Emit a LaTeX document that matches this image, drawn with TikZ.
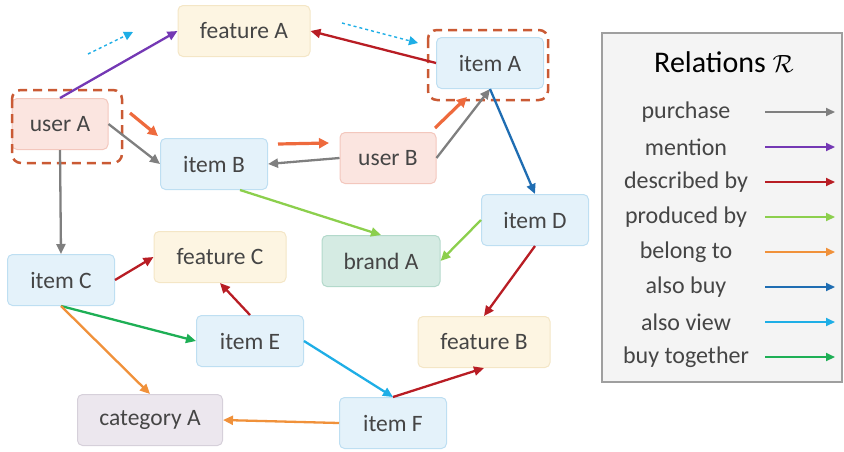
\documentclass[tikz,border=0pt]{standalone}
\usepackage{fontspec}
\setmainfont{Carlito}
\usetikzlibrary{arrows.meta}
\definecolor{cpurchase}{HTML}{7F7F7F}
\definecolor{cmention}{HTML}{7438B4}
\definecolor{cdescribed}{HTML}{B81D24}
\definecolor{cproduced}{HTML}{8CCF4D}
\definecolor{cbelong}{HTML}{F0913A}
\definecolor{calsobuy}{HTML}{1F6DB2}
\definecolor{calsoview}{HTML}{1EAEE6}
\definecolor{cbuytogether}{HTML}{1EAF55}
\definecolor{chigh}{HTML}{EE6A3D}
\definecolor{textgray}{HTML}{454545}
\definecolor{itemfill}{HTML}{E4F2FA}
\definecolor{itemline}{HTML}{BEDFF2}
\definecolor{featfill}{HTML}{FDF5E2}
\definecolor{featline}{HTML}{F4E6C6}
\definecolor{userfill}{HTML}{FBE5E0}
\definecolor{userline}{HTML}{F3C7BD}
\definecolor{brandfill}{HTML}{D5EBE3}
\definecolor{brandline}{HTML}{B3D9CB}
\definecolor{catfill}{HTML}{ECE7EE}
\definecolor{catline}{HTML}{D6D0DA}
\begin{document}
\begin{tikzpicture}[
        x=1pt, y=-1pt,
        box/.style={draw, rounded corners=5pt, line width=1pt, text=textgray,
            font=\fontsize{23.5}{26}\selectfont, minimum height=51pt},
        item/.style={box, fill=itemfill, draw=itemline, minimum width=107pt},
        feature/.style={box, fill=featfill, draw=featline, minimum width=132pt},
        user/.style={box, fill=userfill, draw=userline, minimum width=96pt},
        brand/.style={box, fill=brandfill, draw=brandline, minimum width=118pt},
        category/.style={box, fill=catfill, draw=catline, minimum width=145pt},
        rel/.style={line width=2.3pt, -{Triangle[length=10pt,width=9pt]}},
        path line/.style={line width=3.2pt, chigh, -{Triangle[length=10pt,width=10pt]}},
        view line/.style={line width=1.4pt, calsoview, dashed, -{Triangle[length=9pt,width=9pt]}},
        hl box/.style={line width=2.5pt, chigh!85!black, dash pattern=on 9pt off 6pt, rounded corners=9pt},
        legtext/.style={text=textgray, font=\fontsize{24}{27}\selectfont}
        ]
        \useasboundingbox (0,0) rectangle (844,451);
        % Nodes
        \node[feature] (featA) at (244,31) {feature A};
        \node[item] (itemA) at (490,63) {item A};
        \node[user] (userA) at (60,124) {user A};
        \node[item] (itemB) at (214,164) {item B};
        \node[user] (userB) at (388,158) {user B};
        \node[item] (itemD) at (535,220) {item D};
        \node[brand] (brandA) at (381,261) {brand A};
        \node[item] (itemC) at (61,280) {item C};
        \node[feature] (featC) at (220,257) {feature C};
        \node[item] (itemE) at (250,341) {item E};
        \node[feature] (featB) at (484,342) {feature B};
        \node[category] (catA) at (150,420) {category A};
        \node[item] (itemF) at (393,423) {item F};
        % Dashed boxes
        \draw[hl box] (12,90) rectangle (122,163);
        \draw[hl box] (428,30) rectangle (548,100);
        % Relations
        \draw[rel, cmention] (userA.north) -- (featA.west);
        \draw[rel, cpurchase] (userA.east) -- (itemB.west);
        \draw[rel, cpurchase] (userA.south) -- (itemC.north);
        \draw[rel, cdescribed] (itemA.west) -- (featA.east);
        \draw[rel, cpurchase] (userB.west) -- (itemB.east);
        \draw[rel, cpurchase] (userB.east) -- (itemA.south);
        \draw[rel, calsobuy] (itemA.south) -- (itemD.north);
        \draw[rel, cproduced] (itemB.315) -- (brandA.north);
        \draw[rel, cproduced] (itemD.west) -- (brandA.east);
        \draw[rel, cdescribed] (itemD.south) -- (featB.north);
        \draw[rel, cdescribed] (itemC.east) -- (featC.west);
        \draw[rel, cdescribed] (itemE.north) -- (featC.south);
        \draw[rel, cbuytogether] (itemC.south) -- (itemE.west);
        \draw[rel, cbelong] (itemC.south) -- (catA.north);
        \draw[rel, calsoview] (itemE.east) -- (itemF.north);
        \draw[rel, cdescribed] (itemF.north) -- (featB.south);
        \draw[rel, cbelong] (itemF.west) -- (catA.east);
        % Path hints
        \coordinate (p1) at (130,113); \coordinate (p2) at (158,136);
        \coordinate (p3) at (278,144); \coordinate (p4) at (329,143);
        \coordinate (p5) at (435,128); \coordinate (p6) at (467,97);
        \draw[path line] (p1) -- (p2);
        \draw[path line] (p3) -- (p4);
        \draw[path line] (p5) -- (p6);
        \coordinate (v1) at (88,54); \coordinate (v2) at (133,32);
        \coordinate (v3) at (342,23); \coordinate (v4) at (418,43);
        \draw[view line] (v1) -- (v2);
        \draw[view line] (v3) -- (v4);
        % Legend
        \draw[line width=1.2pt, gray!75, fill=gray!9] (602,33) rectangle (842,382);
        \node[font=\fontsize{30}{33}\selectfont] (title) at (724,62) {Relations $\mathcal{R}$};
        \foreach \name/\col [count=\i] in {purchase/cpurchase, mention/cmention,
            {described by}/cdescribed, {produced by}/cproduced, {belong to}/cbelong,
            {also buy}/calsobuy, {also view}/calsoview, {buy together}/cbuytogether} {
            \pgfmathsetmacro\yy{77+35*\i}
            \node[legtext] (lab\i) at (686,\yy) {\name};
            \coordinate (la\i) at (765,\yy);
            \coordinate (lb\i) at (835,\yy);
            \draw[line width=2pt, \col, -{Triangle[length=9pt,width=8pt]}] (la\i) -- (lb\i);
        }
    \end{tikzpicture}
\end{document}
